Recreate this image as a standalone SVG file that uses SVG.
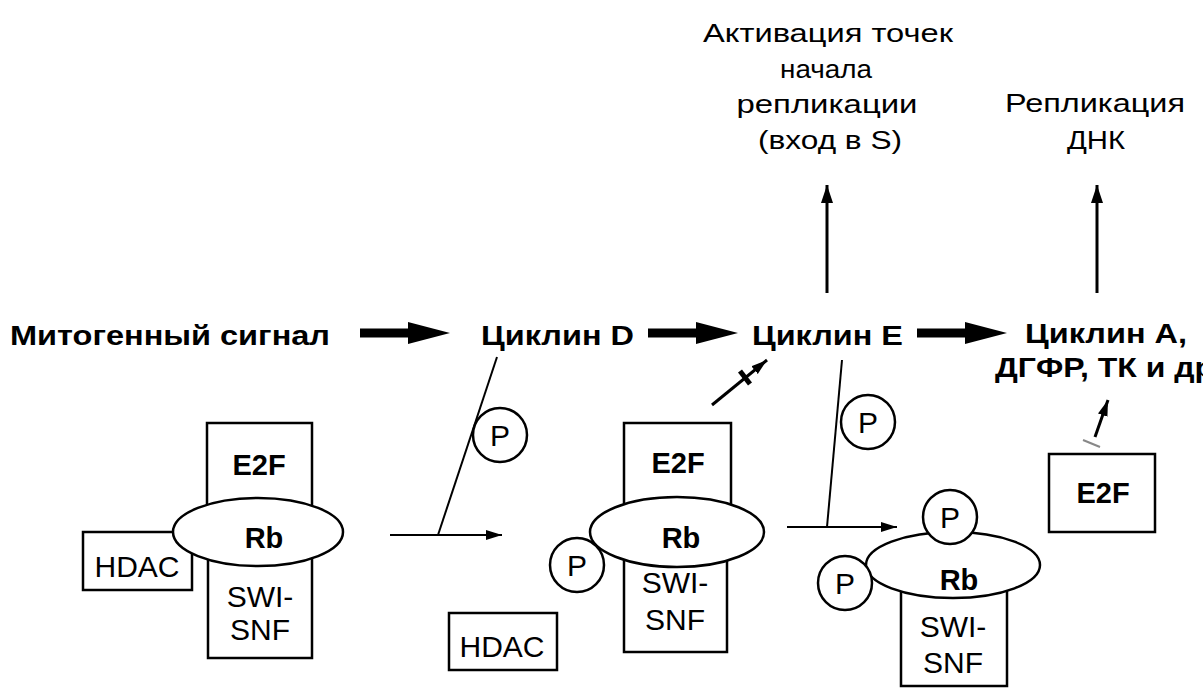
<svg xmlns="http://www.w3.org/2000/svg" width="1203" height="688" viewBox="0 0 1203 688">
<defs>
<style>
.bg{fill:#fff}
.box{fill:#fff;stroke:#000;stroke-width:2.5}
.ell{fill:#fff;stroke:#000;stroke-width:2.5}
.pc{fill:#fff;stroke:#000;stroke-width:2.5}
.lbl{font-family:"Liberation Sans",Arial,sans-serif;font-weight:bold;font-size:28px;fill:#000}
.top{font-family:"Liberation Sans",Arial,sans-serif;font-size:26px;fill:#000;text-anchor:middle}
.bt{font-family:"Liberation Sans",Arial,sans-serif;font-weight:bold;font-size:29px;fill:#000;text-anchor:middle}
.rt{font-family:"Liberation Sans",Arial,sans-serif;font-size:30px;fill:#000;text-anchor:middle}
.thick{stroke:#000;stroke-width:9;fill:none}
.thin{stroke:#000;stroke-width:2;fill:none}
.vert{stroke:#000;stroke-width:3;fill:none}
</style>
<marker id="big" markerUnits="userSpaceOnUse" markerWidth="44" markerHeight="24" refX="2" refY="11" orient="auto">
<path d="M0,0 L42,11 L0,22 z" fill="#000"/>
</marker>
<marker id="sm" markerUnits="userSpaceOnUse" markerWidth="18" markerHeight="12" refX="16" refY="5" orient="auto">
<path d="M0,0 L16,5 L0,10 z" fill="#000"/>
</marker>
<marker id="up" markerUnits="userSpaceOnUse" markerWidth="20" markerHeight="14" refX="18" refY="6" orient="auto">
<path d="M0,0 L18,6 L0,12 z" fill="#000"/>
</marker>
</defs>
<rect class="bg" x="0" y="0" width="1203" height="688"/>

<g id="connectors">
<line class="thick" x1="360" y1="333" x2="410" y2="333" marker-end="url(#big)"/>
<line class="thick" x1="648" y1="333" x2="698" y2="333" marker-end="url(#big)"/>
<line class="thick" x1="917" y1="333" x2="967" y2="333" marker-end="url(#big)"/>
<line class="vert" x1="827" y1="293" x2="827" y2="185" marker-end="url(#up)"/>
<line class="vert" x1="1097" y1="293" x2="1097" y2="185" marker-end="url(#up)"/>
<line class="thin" x1="497" y1="357" x2="438" y2="535"/>
<line class="thin" x1="390" y1="535" x2="502" y2="535" marker-end="url(#sm)"/>
<line class="thin" x1="842" y1="360" x2="827" y2="527"/>
<line class="thin" x1="787" y1="527" x2="897" y2="527" marker-end="url(#sm)"/>
<line stroke="#000" stroke-width="3" x1="712" y1="405" x2="767" y2="360" marker-end="url(#sm)"/>
<line stroke="#000" stroke-width="5" x1="740" y1="371" x2="750" y2="384"/>
<line stroke="#000" stroke-width="3" x1="1095" y1="437" x2="1108" y2="400" marker-end="url(#sm)"/>
<line stroke="#888" stroke-width="2" x1="1083" y1="440" x2="1100" y2="447"/>
</g>

<g id="mitogen"><text class="lbl" x="10" y="345" textLength="320" lengthAdjust="spacingAndGlyphs">Митогенный сигнал</text></g>
<g id="cyclinD"><text class="lbl" x="481" y="345" textLength="153" lengthAdjust="spacingAndGlyphs">Циклин D</text></g>
<g id="cyclinE"><text class="lbl" x="752" y="345" textLength="151" lengthAdjust="spacingAndGlyphs">Циклин E</text></g>
<g id="cyclinA">
<text class="lbl" x="1025" y="343" textLength="162" lengthAdjust="spacingAndGlyphs">Циклин А,</text>
<text class="lbl" x="995" y="377" font-size="27" textLength="228" lengthAdjust="spacingAndGlyphs">ДГФР, ТК и др.</text>
</g>

<g id="activation">
<text class="top" x="828" y="42" textLength="250" lengthAdjust="spacingAndGlyphs">Активация точек</text>
<text class="top" x="826" y="78" textLength="92" lengthAdjust="spacingAndGlyphs">начала</text>
<text class="top" x="827" y="113" textLength="181" lengthAdjust="spacingAndGlyphs">репликации</text>
<text class="top" x="830" y="149" textLength="144" lengthAdjust="spacingAndGlyphs">(вход в S)</text>
</g>
<g id="replication">
<text class="top" x="1095" y="112" textLength="180" lengthAdjust="spacingAndGlyphs">Репликация</text>
<text class="top" x="1096" y="149" textLength="58" lengthAdjust="spacingAndGlyphs">ДНК</text>
</g>

<g id="complex1">
<rect class="box" x="207" y="423" width="105" height="90"/>
<rect class="box" x="208" y="555" width="104" height="103"/>
<rect class="box" x="83" y="532" width="109" height="58"/>
<ellipse class="ell" cx="258" cy="532" rx="85" ry="34"/>
<text class="bt" x="259" y="475">E2F</text>
<text class="bt" x="264" y="548" font-size="31">Rb</text>
<text class="rt" x="260" y="607">SWI-</text>
<text class="rt" x="260" y="640">SNF</text>
<text class="rt" x="137" y="577" font-size="32">HDAC</text>
</g>

<g id="p1"><circle class="pc" cx="500" cy="435" r="27"/><text class="rt" x="500" y="446">P</text></g>

<g id="complex2">
<rect class="box" x="624" y="423" width="107" height="90"/>
<rect class="box" x="624" y="555" width="103" height="97"/>
<ellipse class="ell" cx="677" cy="532" rx="87" ry="35"/>
<circle class="pc" cx="577" cy="565" r="27"/>
<text class="rt" x="577" y="576">P</text>
<text class="bt" x="678" y="473">E2F</text>
<text class="bt" x="681" y="548" font-size="31">Rb</text>
<text class="rt" x="675" y="593">SWI-</text>
<text class="rt" x="675" y="630">SNF</text>
</g>

<g id="hdac2"><rect class="box" x="449" y="613" width="108" height="57"/><text class="rt" x="502" y="657" font-size="32">HDAC</text></g>

<g id="p2"><circle class="pc" cx="868" cy="422" r="27"/><text class="rt" x="868" y="433">P</text></g>

<g id="complex3">
<rect class="box" x="901" y="580" width="106" height="106"/>
<ellipse class="ell" cx="953" cy="565" rx="87" ry="33"/>
<circle class="pc" cx="950" cy="517" r="27"/>
<text class="rt" x="950" y="528">P</text>
<circle class="pc" cx="845" cy="583" r="27"/>
<text class="rt" x="845" y="594">P</text>
<text class="bt" x="959" y="590" font-size="31">Rb</text>
<text class="rt" x="953" y="637">SWI-</text>
<text class="rt" x="953" y="673">SNF</text>
</g>

<g id="e2f3"><rect class="box" x="1049" y="454" width="106" height="78"/><text class="bt" x="1103" y="503">E2F</text></g>
</svg>
